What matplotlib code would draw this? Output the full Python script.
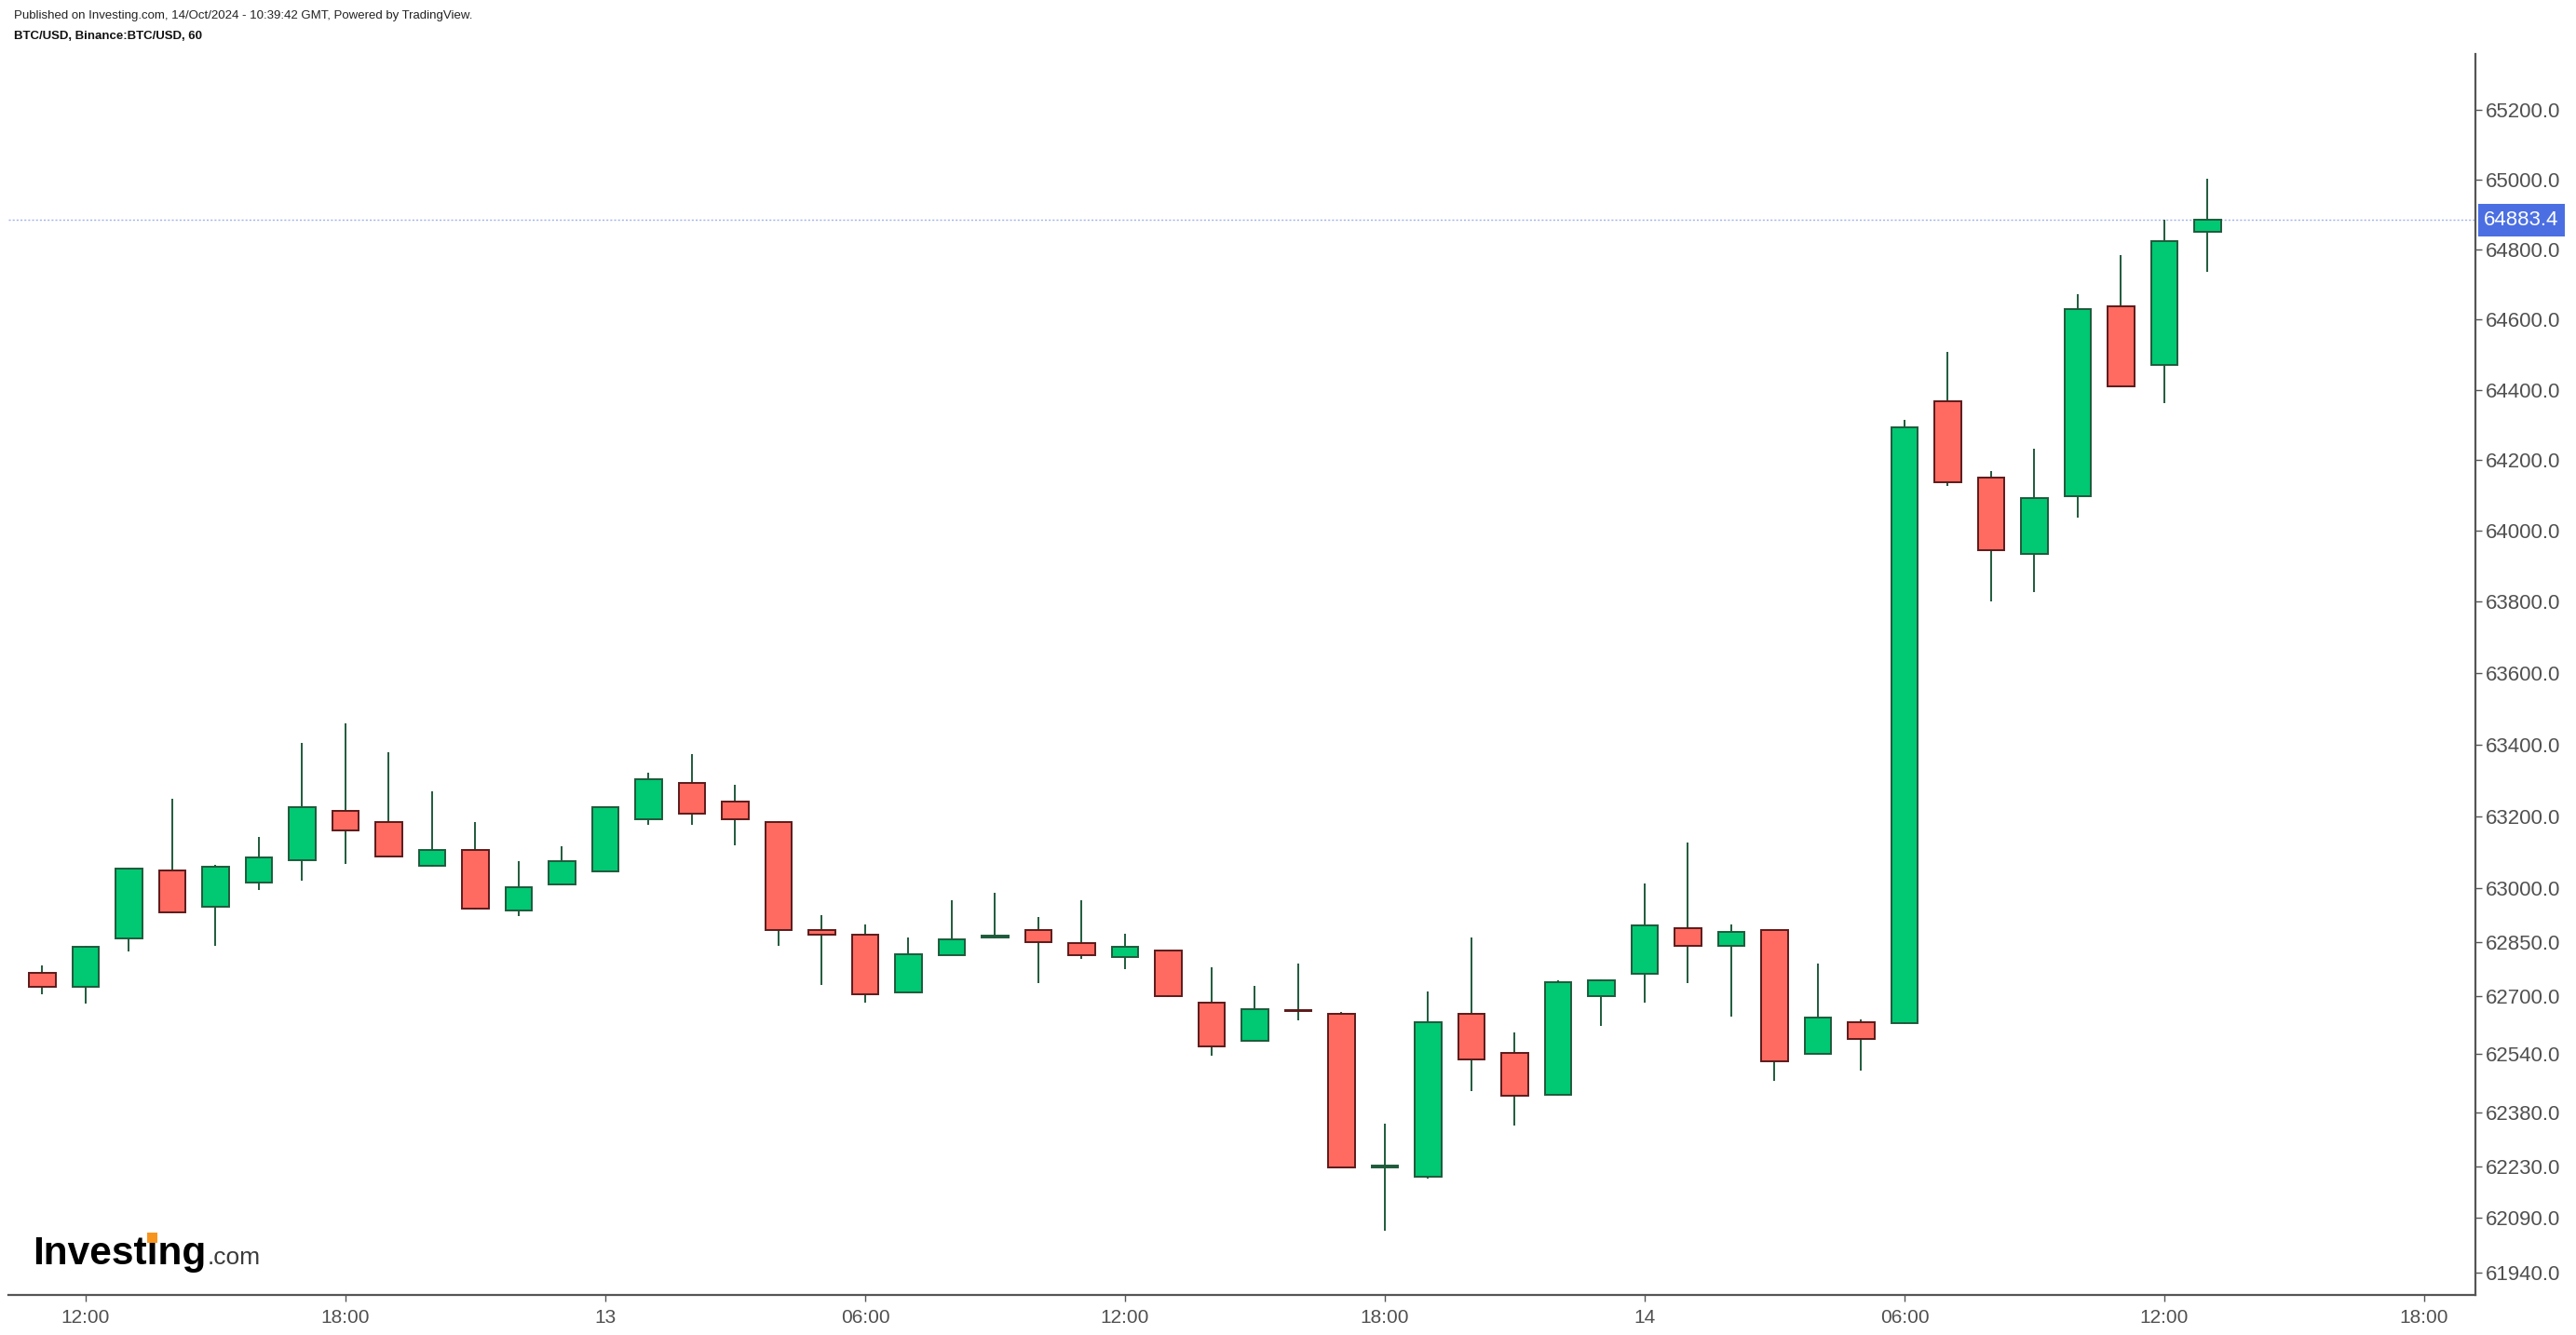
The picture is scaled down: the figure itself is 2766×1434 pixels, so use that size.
import pandas as pd
import matplotlib
matplotlib.use("Agg")
import matplotlib.pyplot as plt
import matplotlib.dates as mdates
from matplotlib.ticker import FixedLocator, FuncFormatter, NullLocator
from matplotlib.transforms import blended_transform_factory
from matplotlib.patches import Rectangle

plt.rcParams['font.family'] = ['Liberation Sans', 'DejaVu Sans']

# hourly BTC/USD candles, 12 Oct 11:00 -> 14 Oct 13:00
start = "2024-10-12 11:00"
opens = [62763, 62726, 62861, 63048, 62948, 63015, 63078, 63214, 63183, 63062,
         63105, 62937, 63010, 63046, 63191, 63292, 63240, 63183, 62882, 62871,
         62710, 62813, 62862, 62882, 62846, 62809, 62825, 62681, 62577, 62661,
         62650, 62229, 62203, 62650, 62542, 62428, 62701, 62762, 62887, 62840,
         62882, 62540, 62629, 62625, 64368, 64151, 63934, 64099, 64638, 64469,
         64850]
highs = [62786, 62838, 63055, 63247, 63064, 63143, 63403, 63460, 63377, 63268,
         63184, 63075, 63117, 63226, 63320, 63372, 63288, 63185, 62925, 62899,
         62863, 62966, 62987, 62920, 62966, 62873, 62826, 62781, 62729, 62791,
         62657, 62349, 62713, 62863, 62600, 62744, 62745, 63013, 63127, 62899,
         62883, 62791, 62636, 64315, 64507, 64168, 64232, 64671, 64784, 64884,
         65002]
lows = [62704, 62678, 62823, 62930, 62838, 62993, 63019, 63066, 63086, 63060,
        62940, 62921, 63008, 63044, 63175, 63175, 63118, 62838, 62730, 62683,
        62708, 62812, 62860, 62735, 62802, 62775, 62698, 62534, 62575, 62632,
        62227, 62055, 62197, 62437, 62344, 62426, 62617, 62683, 62735, 62642,
        62467, 62538, 62493, 62623, 64128, 63801, 63828, 64038, 64407, 64361,
        64736]
closes = [62726, 62836, 63053, 62933, 63058, 63084, 63224, 63161, 63088, 63105,
          62942, 63001, 63074, 63224, 63302, 63207, 63191, 62882, 62870, 62705,
          62815, 62856, 62868, 62850, 62813, 62836, 62700, 62561, 62665, 62659,
          62229, 62234, 62629, 62525, 62424, 62738, 62744, 62897, 62840, 62877,
          62520, 62640, 62582, 64294, 64138, 63946, 64094, 64628, 64409, 64824,
          64883.4]
last_price = 64883.4

y_ticks = [61940, 62090, 62230, 62380, 62540, 62700, 62850, 63000, 63200, 63400,
           63600, 63800, 64000, 64200, 64400, 64600, 64800, 65000, 65200]
x_ticks = ["2024-10-12 12:00", "2024-10-12 18:00", "2024-10-13 00:00", "2024-10-13 06:00",
           "2024-10-13 12:00", "2024-10-13 18:00", "2024-10-14 00:00", "2024-10-14 06:00",
           "2024-10-14 12:00", "2024-10-14 18:00"]
x_labels = ["12:00", "18:00", "13", "06:00", "12:00", "18:00", "14", "06:00", "12:00", "18:00"]

up_fill, up_edge = "#00c873", "#1f5a3b"
dn_fill, dn_edge = "#ff6a61", "#5c1a1a"
wick_col = "#1f5a3b"
axis_col = "#555555"

times = pd.date_range(start, periods=len(opens), freq="h")
hour = 1 / 24

fig = plt.figure(figsize=(27.66, 14.34), dpi=100)
ax = fig.add_axes([9 / 2766, 1 - 1391 / 1434, (2658 - 9) / 2766, (1391 - 58) / 1434])

up = [c >= o for o, c in zip(opens, closes)]
fills = [up_fill if u else dn_fill for u in up]
edges = [up_edge if u else dn_edge for u in up]
bottoms = [min(o, c) for o, c in zip(opens, closes)]
heights = [abs(c - o) for o, c in zip(opens, closes)]

ax.set_yscale("log")
ax.vlines(times, lows, highs, color=wick_col, lw=1.4, zorder=2)
ax.bar(times, heights, bottom=bottoms, width=0.615 * hour, color=fills,
       edgecolor=edges, linewidth=1.4, zorder=3)

ax.axhline(last_price, color="#9fb2f0", lw=1.0, ls=(0, (1.5, 1.5)), zorder=1)

ax.set_xlim(times[0] - pd.Timedelta(minutes=47), times[0] + pd.Timedelta(minutes=int(56.19 * 60)))
ax.set_ylim(61878.7, 65360.7)

ax.yaxis.tick_right()
ax.yaxis.set_major_locator(FixedLocator(y_ticks))
ax.yaxis.set_minor_locator(NullLocator())
ax.yaxis.set_major_formatter(FuncFormatter(lambda v, p: f"{v:.1f}"))
ax.xaxis.set_major_locator(FixedLocator([mdates.date2num(pd.Timestamp(t)) for t in x_ticks]))
ax.set_xticklabels(x_labels)

for s in ["top", "left"]:
    ax.spines[s].set_visible(False)
for s in ["bottom", "right"]:
    ax.spines[s].set_color(axis_col)
    ax.spines[s].set_linewidth(1.6)

ax.tick_params(axis="y", colors=axis_col, labelcolor="#505050", labelsize=16, length=5, width=1, pad=3)
ax.tick_params(axis="x", colors=axis_col, labelcolor="#505050", labelsize=15, length=5, width=1, pad=6)

# last price tag on the price axis
tr = blended_transform_factory(ax.transAxes, ax.transData)
ax.text(1.0035, last_price, f"{last_price:.1f}", transform=tr, color="white", fontsize=16,
        va="center", ha="left", clip_on=False, zorder=6,
        bbox=dict(boxstyle="square,pad=0.3", fc="#4b6fe2", ec="none"))

# header
fig.text(15 / 2766, 1 - 17 / 1434, "Published on Investing.com, 14/Oct/2024 - 10:39:42 GMT, Powered by TradingView.",
         fontsize=9.5, color="#222222", va="center", ha="left")
fig.text(15 / 2766, 1 - 39 / 1434, "BTC/USD, Binance:BTC/USD, 60",
         fontsize=9.5, color="#111111", weight="bold", va="center", ha="left")

# logo
r = fig.canvas.get_renderer()
lsize = 30.5
lx, ly = 35 / 2766, 1 - 1358 / 1434
logo = fig.text(lx, ly, "Investing", fontsize=lsize, weight="bold", color="black", va="baseline", ha="left")
wb = logo.get_window_extent(r)
fig.text((wb.x1 + 1) / 2766, ly, ".com", fontsize=19, color="#3a3a3a", va="baseline", ha="left")
tmp = fig.text(lx, ly, "Invest", fontsize=lsize, weight="bold", va="baseline", ha="left")
w1 = tmp.get_window_extent(r).width
tmp.set_text("Investi")
w2 = tmp.get_window_extent(r).width
tmp.remove()
cx = 35 + (w1 + w2) / 2
em = lsize * 100 / 72
cy = 1434 - 1358 + 0.67 * em
fig.patches.append(Rectangle(((cx - 5.5) / 2766, (cy - 5.5) / 1434), 11 / 2766, 11 / 1434,
                             transform=fig.transFigure, fc="#f7941d", ec="none", zorder=10))

fig.savefig("out.png", dpi=100)
